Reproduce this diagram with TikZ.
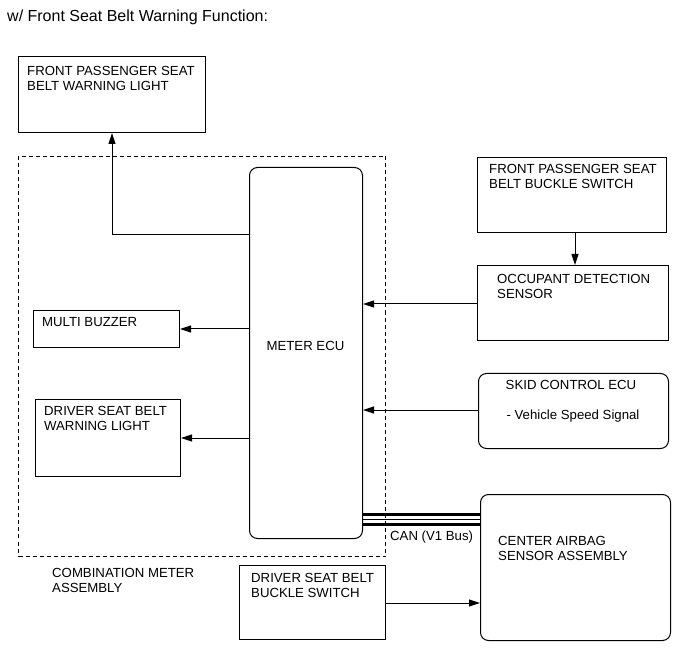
\documentclass[tikz,border=0pt]{standalone}
\usepackage{fontspec}
\setmainfont{Liberation Sans}
\usetikzlibrary{arrows.meta}
\begin{document}
\begin{tikzpicture}[x=1pt,y=-1pt,
  box/.style={draw, line width=1pt, inner sep=0pt, anchor=north west},
  rbox/.style={box, rounded corners=8pt},
  lbl/.style={anchor=north west, inner sep=0pt, align=left, font=\fontsize{13.2}{15.5}\selectfont},
  clbl/.style={inner sep=0pt, font=\fontsize{13.2}{15.5}\selectfont},
  arr/.style={line width=1pt, -{Triangle[length=11pt,width=7pt]}},
  canline/.style={line width=3pt},
  ]
\useasboundingbox (0,0) rectangle (691,660);

% title
\node[lbl, font=\fontsize{16}{18}\selectfont] (title) at (7,10) {w/ Front Seat Belt Warning Function:};

% combination meter assembly (dashed)
\node[box, dashed, dash pattern=on 4pt off 3pt, minimum width=367pt, minimum height=400pt] (comb) at (18,156) {};
\node[lbl] (combt) at (52,568) {COMBINATION METER\\ASSEMBLY};

% boxes
\node[box, minimum width=187pt, minimum height=76pt] (fpswl) at (18,56) {};
\node[lbl] (fpswlt) at (27,66) {FRONT PASSENGER SEAT\\BELT WARNING LIGHT};

\node[rbox, minimum width=113pt, minimum height=371pt] (meter) at (249,167) {};
\node[clbl] (metert) at (305.5,346) {METER ECU};

\node[box, minimum width=146pt, minimum height=37pt] (buzzer) at (33,310) {};
\node[lbl] (buzzert) at (42,317) {MULTI BUZZER};

\node[box, minimum width=145pt, minimum height=77pt] (dsbwl) at (35,399) {};
\node[lbl] (dsbwlt) at (44,406) {DRIVER SEAT BELT\\WARNING LIGHT};

\node[box, minimum width=189pt, minimum height=75pt] (fpsbbs) at (477,157) {};
\node[lbl] (fpsbbst) at (489,164) {FRONT PASSENGER SEAT\\BELT BUCKLE SWITCH};

\node[box, minimum width=191pt, minimum height=75pt] (ods) at (477,265) {};
\node[lbl] (odst) at (497,274) {OCCUPANT DETECTION\\SENSOR};

\node[rbox, minimum width=190pt, minimum height=75pt] (skid) at (478,373) {};
\node[clbl] (skidt1) at (571,385) {SKID CONTROL ECU};
\node[clbl] (skidt2) at (573,416) {- Vehicle Speed Signal};

\node[rbox, minimum width=190pt, minimum height=146pt] (airbag) at (480,494) {};
\node[lbl] (airbagt) at (498,536) {CENTER AIRBAG\\SENSOR ASSEMBLY};

\node[box, minimum width=146pt, minimum height=74pt] (dsbbs) at (239,565) {};
\node[lbl] (dsbbst) at (251,573) {DRIVER SEAT BELT\\BUCKLE SWITCH};

\node[lbl] (can) at (390,531) {CAN (V1 Bus)};

% connector reference points
\coordinate (c1) at (112,235);
\coordinate (c2) at (575,0);
\coordinate (c3) at (0,304);
\coordinate (c4) at (0,410);
\coordinate (c5) at (0,603);
\coordinate (k1) at (0,514);
\coordinate (k2) at (0,519);
\coordinate (k3) at (0,524);

% connectors
\draw[arr] (meter.west |- c1) -| (fpswl.south -| c1);
\draw[arr] (meter.west |- buzzer.east) -- (buzzer.east);
\draw[arr] (meter.west |- dsbwl.east) -- (dsbwl.east);
\draw[arr] (fpsbbs.south -| c2) -- (ods.north -| c2);
\draw[arr] (ods.west |- c3) -- (meter.east |- c3);
\draw[arr] (skid.west |- c4) -- (meter.east |- c4);
\draw[arr] (dsbbs.east |- c5) -- (airbag.west |- c5);

% CAN bus
\draw[canline] (meter.east |- k1) -- (airbag.west |- k1);
\draw[line width=1pt] (meter.east |- k2) -- (airbag.west |- k2);
\draw[canline] (meter.east |- k3) -- (airbag.west |- k3);
\end{tikzpicture}
\end{document}
